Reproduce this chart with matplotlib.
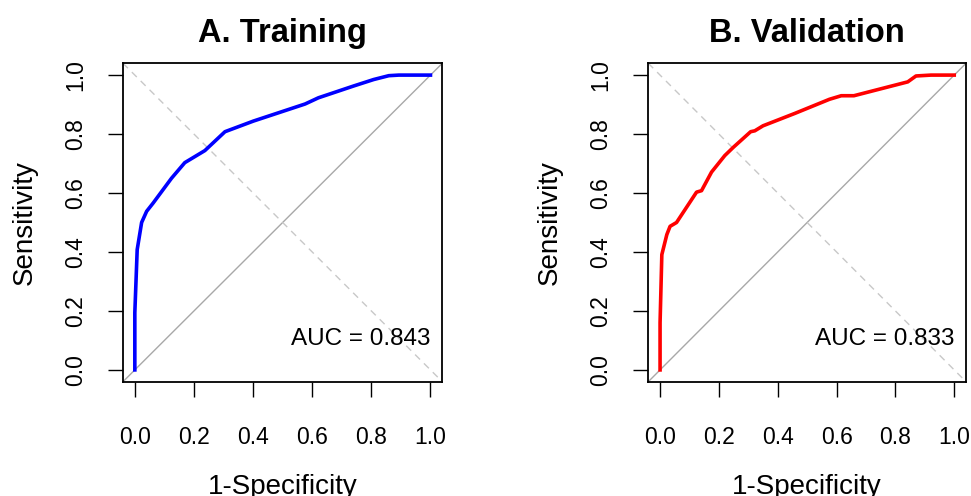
import matplotlib
matplotlib.use("Agg")
import matplotlib.pyplot as plt

plt.rcParams['font.family'] = ['Liberation Sans', 'DejaVu Sans']

# Training ROC curve (1-Specificity, Sensitivity)
train_fpr = [0.0, 0.0, 0.008, 0.023, 0.040, 0.062, 0.124, 0.169, 0.237, 0.305,
             0.401, 0.576, 0.621, 0.740, 0.808, 0.859, 0.893, 1.0]
train_tpr = [0.0, 0.194, 0.408, 0.500, 0.538, 0.566, 0.650, 0.703, 0.744, 0.808,
             0.844, 0.902, 0.923, 0.963, 0.985, 0.998, 1.0, 1.0]

# Validation ROC curve
valid_fpr = [0.0, 0.0, 0.006, 0.023, 0.034, 0.056, 0.124, 0.141, 0.175, 0.220,
             0.249, 0.308, 0.322, 0.350, 0.458, 0.576, 0.616, 0.659, 0.842,
             0.870, 0.921, 1.0]
valid_tpr = [0.0, 0.160, 0.391, 0.459, 0.487, 0.500, 0.603, 0.608, 0.671, 0.727,
             0.755, 0.808, 0.811, 0.828, 0.870, 0.918, 0.930, 0.930, 0.977,
             0.997, 1.0, 1.0]

titles = ["A. Training", "B. Validation"]
auc_labels = ["AUC = 0.843", "AUC = 0.833"]
ticks = [0.0, 0.2, 0.4, 0.6, 0.8, 1.0]
tick_labels = ["0.0", "0.2", "0.4", "0.6", "0.8", "1.0"]

W, H = 971, 496
fig = plt.figure(figsize=(W / 100, H / 100), dpi=100)

boxes = [(123, 442.3), (648.3, 966)]
top, bottom = 63.3, 381.7

curves = [(train_fpr, train_tpr, "#0000FF"), (valid_fpr, valid_tpr, "#FF0000")]

lo, hi = -0.04, 1.04
for i, ((l, r), (fx, ty, col)) in enumerate(zip(boxes, curves)):
    ax = fig.add_axes([l / W, (H - bottom) / H, (r - l) / W, (bottom - top) / H])
    ax.set_xlim(lo, hi)
    ax.set_ylim(lo, hi)
    ax.plot([lo, hi], [lo, hi], color="#A8A8A8", lw=1.0, zorder=1)
    ax.plot([lo, hi], [hi, lo], color="#C8C8C8", lw=1.0, ls=(0, (5, 4)), zorder=1)
    ax.plot(fx, ty, color=col, lw=2.6, zorder=3, solid_joinstyle="round")
    ax.text(1.0, 0.105, auc_labels[i], ha="right", va="center", fontsize=17.5)
    ax.set_xticks(ticks)
    ax.set_xticklabels(tick_labels)
    ax.set_yticks(ticks)
    ax.set_yticklabels(tick_labels, rotation=90, va="center")
    ax.tick_params(axis="both", direction="out", length=11, width=1.0,
                   labelsize=16.5, color="black")
    ax.tick_params(axis="x", pad=21)
    ax.tick_params(axis="y", pad=15)
    for s in ax.spines.values():
        s.set_linewidth(1.3)
    ax.set_title(titles[i], fontsize=23.5, fontweight="bold", pad=15)
    ax.set_xlabel("1-Specificity", fontsize=20, labelpad=18)
    ax.set_ylabel("Sensitivity", fontsize=20, labelpad=19)

fig.savefig("out.png", dpi=100)
